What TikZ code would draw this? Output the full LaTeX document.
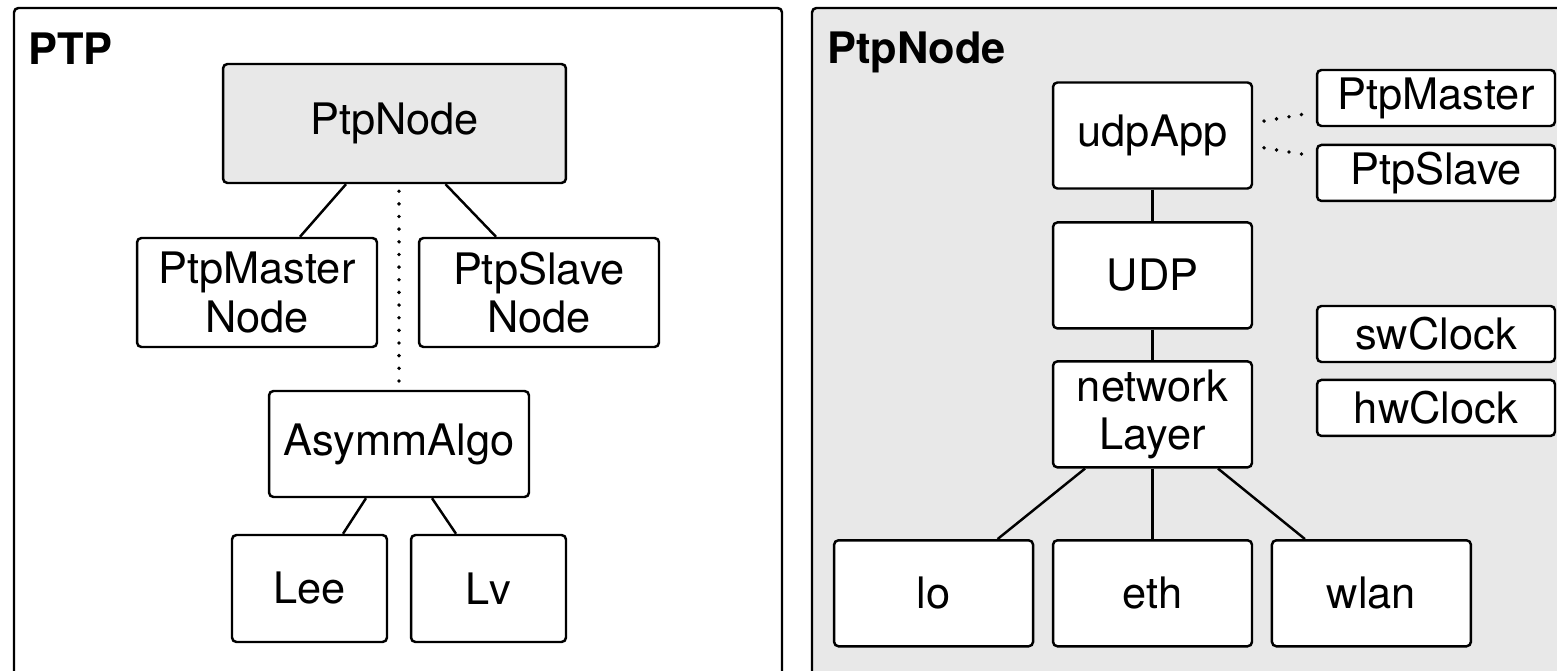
\documentclass[tikz,border=0pt]{standalone}
\usepackage{fontspec}
\setmainfont{TeX Gyre Heros}
\usepackage{tikz}
\usetikzlibrary{positioning}
\definecolor{panelgray}{RGB}{232,232,232}

\begin{document}
\begin{tikzpicture}[
      x=0.02cm, y=-0.02cm,
      line width=1.4pt,
      every node/.style={font=\fontsize{24.7}{27.5}\selectfont},
      box/.style={draw, rounded corners=2.5pt, fill=white, align=center, inner sep=0pt},
      bigbox/.style={box, minimum width=3.98cm, minimum height=2.12cm},
      smallbox/.style={box, minimum width=4.76cm, minimum height=1.12cm},
      leafbox/.style={box, minimum width=3.1cm, minimum height=2.14cm},
      title/.style={font=\fontsize{24.7}{27.5}\selectfont\bfseries, anchor=base west, inner sep=0pt},
      dotline/.style={line width=2.2pt, line cap=round, dash pattern=on 0pt off 7.2pt}
    ]
      \useasboundingbox (0,0) rectangle (1557,671);
      \clip (0,0) rectangle (1557,671);

      % two panels, both run off the page
      \draw[rounded corners=2.5pt] (14,8) rectangle (782,720);
      \draw[rounded corners=2.5pt, fill=panelgray] (812,8) rectangle (1600,720);
      \node[title] (ptptitle) at (27,65) {PTP};
      \node[title] (nodetitle) at (826,64) {PtpNode};

      % left: PTP module tree
      \node[box, fill=panelgray, minimum width=6.86cm, minimum height=2.38cm] (ptpnode) at (394.5,123.5) {PtpNode};
      \node[box, minimum width=4.8cm, minimum height=2.18cm] (masternode) at (257,292.5) {PtpMaster\\Node};
      \node[box, minimum width=4.8cm, minimum height=2.18cm] (slavenode) at (539,292.5) {PtpSlave\\Node};
      \node[box, minimum width=5.2cm, minimum height=2.12cm] (asymm) at (399,444) {AsymmAlgo};
      \node[leafbox] (lee) at (309.5,588.5) {Lee};
      \node[leafbox] (lv) at (488.5,588.5) {Lv};
      \draw ([xshift=-0.97cm]ptpnode.south) -- ([xshift=0.86cm]masternode.north);
      \draw ([xshift=1.02cm]ptpnode.south) -- ([xshift=-0.86cm]slavenode.north);
      \draw[dotline, shorten <=0.14cm, shorten >=0.1cm] (asymm.north |- ptpnode.south) -- (asymm.north);
      \draw ([xshift=-0.66cm]asymm.south) -- ([xshift=0.67cm]lee.north);
      \draw ([xshift=0.66cm]asymm.south) -- ([xshift=-0.65cm]lv.north);

      % right: inside PtpNode
      \node[bigbox] (udpapp) at (1152.5,135.5) {udpApp};
      \node[bigbox, below=0.63cm of udpapp] (udp) {UDP};
      \node[bigbox, below=0.61cm of udp] (netlayer) {network\\Layer};
      \node[bigbox, below=1.41cm of netlayer] (eth) {eth};
      \node[bigbox, left=0.35cm of eth] (lo) {lo};
      \node[bigbox, right=0.35cm of eth] (wlan) {wlan};
      \node[smallbox] (pmaster) at (1436,98) {PtpMaster};
      \node[smallbox, below=0.33cm of pmaster] (pslave) {PtpSlave};
      \node[smallbox] (swclock) at (1436,334) {swClock};
      \node[smallbox, below=0.31cm of swclock] (hwclock) {hwClock};
      \draw (udpapp) -- (udp);
      \draw (udp) -- (netlayer);
      \draw ([xshift=-1.35cm]netlayer.south) -- ([xshift=1.28cm]lo.north);
      \draw (netlayer) -- (eth);
      \draw ([xshift=1.31cm]netlayer.south) -- ([xshift=-1.33cm]wlan.north);
      \draw[dotline, shorten <=0.22cm, shorten >=0.2cm] ([yshift=0.25cm]udpapp.east) -- ([yshift=-0.28cm]pmaster.west);
      \draw[dotline, shorten <=0.22cm, shorten >=0.2cm] ([yshift=-0.21cm]udpapp.east) -- ([yshift=0.33cm]pslave.west);
    \end{tikzpicture}
\end{document}
